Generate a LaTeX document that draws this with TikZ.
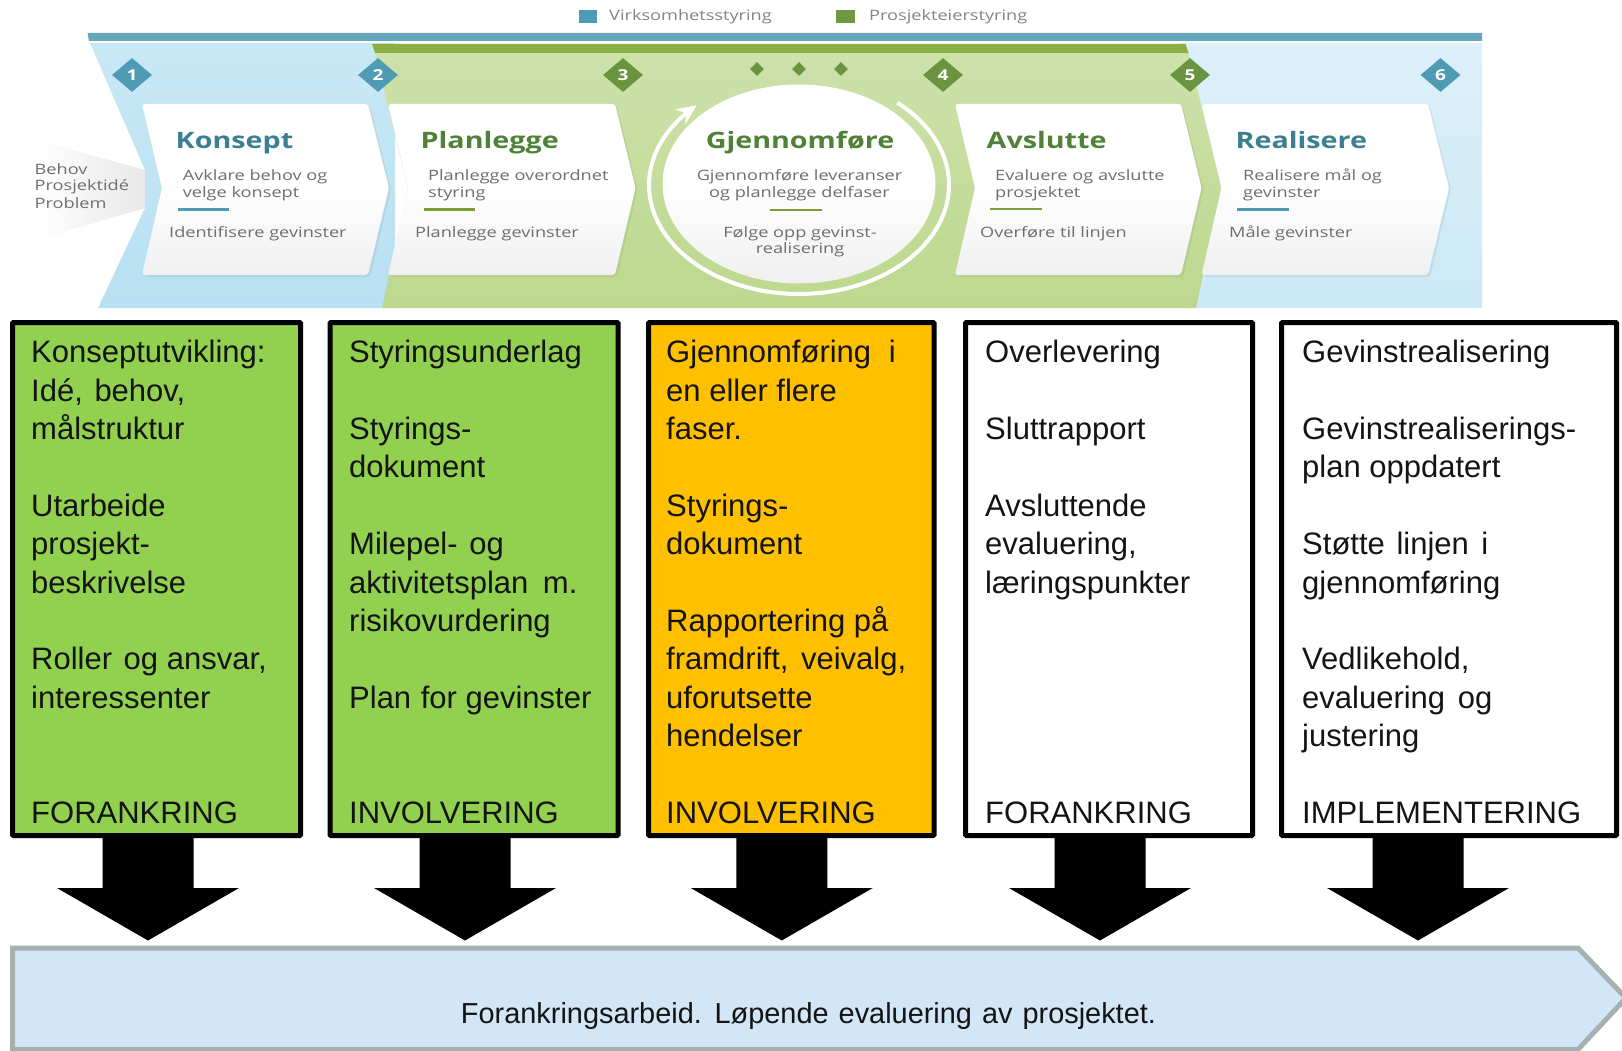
\documentclass[tikz,border=0pt]{standalone}
\usepackage{fontspec}
\usetikzlibrary{shapes.geometric,arrows.meta,calc}
\setmainfont{Liberation Sans}
\newfontfamily\osf[FakeStretch=1.27]{Open Sans}
\definecolor{bluedark}{HTML}{4F9BB4}
\definecolor{bluebar}{HTML}{66A6BC}
\definecolor{greendark}{HTML}{6A9440}
\definecolor{greenbar}{HTML}{8AB13F}
\definecolor{titleblue}{HTML}{3A7F92}
\definecolor{titlegreen}{HTML}{4F8236}
\definecolor{bodygrey}{HTML}{6E6E70}
\definecolor{boxgreen}{HTML}{92D050}
\definecolor{boxorange}{HTML}{FFC000}
\definecolor{arrowfill}{HTML}{D2E6F7}
\definecolor{arrowline}{HTML}{A5B0B0}
\definecolor{bluetopa}{HTML}{C9E8F5}
\definecolor{bluebota}{HTML}{B7E0F2}
\definecolor{bluetopb}{HTML}{DCF0FA}
\definecolor{bluebotb}{HTML}{CBE9F6}
\definecolor{greentop}{HTML}{CDE1AB}
\definecolor{greenbot}{HTML}{BDD88E}
\tikzset{
  x=1pt,y=-1pt,
  num/.style={diamond,aspect=1.18,minimum width=40pt,minimum height=34pt,inner sep=0pt,text=white,font=\osf\fontsize{15}{15}\selectfont\bfseries},
  numblue/.style={num,fill=bluedark},
  numgreen/.style={num,fill=greendark},
  dot/.style={diamond,aspect=1.1,minimum width=14pt,minimum height=14pt,inner sep=0pt,fill=greendark},
  ttl/.style={anchor=base west,inner sep=0pt,font=\osf\fontsize{22.6}{22}\selectfont\bfseries},
  ttlc/.style={anchor=base,inner sep=0pt,font=\osf\fontsize{22.6}{22}\selectfont\bfseries},
  body/.style={anchor=base west,inner sep=0pt,text=bodygrey,font=\osf\fontsize{14.3}{17}\selectfont},
  bodyc/.style={body,anchor=base},
  legendtxt/.style={body,text=bodygrey!85},
  card/.style={rounded corners=3pt,top color=white,bottom color=black!6,middle color=white},
  cardshadow/.style={rounded corners=3pt,fill=black,opacity=.06},
  bigbox/.style={draw=black,line width=5pt,rounded corners=1pt,anchor=north west,inner sep=0pt,outer sep=0pt},
  boxtext/.style={anchor=north west,inner sep=0pt,align=left,text=black!92,font=\fontsize{31}{38.35}\selectfont},
  ruleblue/.style={line width=2.5pt,bluedark},
  rulegreen/.style={line width=2.5pt,greenbar!90!black}
}
\newcommand{\cardshape}[4]{(#1,104) -- (#3,104) -- (#4,188) -- (#3,275) -- (#1,275) -- (#2,188) -- cycle}
\newcommand{\blockarrow}[2]{%
  \fill[black] ($(#1.south)+(#2-45.5,0)$) -- ($(#1.south)+(#2+45.5,0)$) -- ($(#1.south)+(#2+45.5,52.5)$)
    -- ($(#1.south)+(#2+91,52.5)$) -- ($(#1.south)+(#2,105)$) -- ($(#1.south)+(#2-91,52.5)$)
    -- ($(#1.south)+(#2-45.5,52.5)$) -- cycle;}
\newcommand{\btx}{\rule{0pt}{24pt}}
\begin{document}
\begin{tikzpicture}
\useasboundingbox (0,0) rectangle (1622,1051);
% legend
\fill[bluedark] (579,10) rectangle (597,23);
\node[legendtxt] (lg1) at (609,21) {Virksomhetsstyring};
\fill[greendark!85!greenbar] (836,10) rectangle (855,23);
\node[legendtxt] (lg2) at (869,21) {Prosjekteierstyring};
% bands
\fill[bluebar] (87.5,33) -- (1482,33) -- (1482,41) -- (89,41) -- cycle;
\shade[top color=bluetopa,bottom color=bluebota] (90,43) -- (395,43) -- (395,308) -- (98,308) -- (145,208) -- (145,170) -- cycle;
\shade[top color=bluetopb,bottom color=bluebotb] (1180,43) -- (1482,43) -- (1482,308) -- (1190,308) -- (1215,188) -- cycle;
\shade[top color=greentop,bottom color=greenbot] (375,53) -- (1188.5,53) -- (1221.5,188) -- (1196,308) -- (382,308) -- (408,188) -- cycle;
\fill[greenbar] (372,44) -- (1185.5,44) -- (1188.5,53) -- (375,53) -- cycle;
% behov
\shade[left color=white,right color=black!9] (36,140) -- (145,170) -- (145,208) -- (36,240) -- cycle;
\node[body,align=left] (behov) at (34.5,208) {Behov\\Prosjektidé\\Problem};
% cards
\fill[cardshadow,shift={(2,2)}] \cardshape{142}{162}{368}{389};
\shade[card] \cardshape{142}{162}{368}{389};
\fill[cardshadow,shift={(2,2)}] \cardshape{388}{408}{615}{635.5};
\shade[card] \cardshape{388}{408}{615}{635.5};
\fill[cardshadow,shift={(2,2)}] \cardshape{955}{975}{1181}{1201.5};
\shade[card] \cardshape{955}{975}{1181}{1201.5};
\fill[cardshadow,shift={(2,2)}] \cardshape{1201.5}{1221.5}{1428}{1449};
\shade[card] \cardshape{1201.5}{1221.5}{1428}{1449};
% centre ellipse
\shade[top color=white,bottom color=black!6,middle color=white] (799,184) ellipse [x radius=136.5,y radius=99.5];
\draw[white,line width=4pt,-{Stealth[length=20pt,width=18pt]}] plot[domain=49:-227,samples=90,smooth] ({799+150*cos(\x)},{185-109*sin(\x)});
% diamonds
\node[numblue] (d1) at (132,75) {1};
\node[numblue] (d2) at (378,75) {2};
\node[numgreen] (d3) at (623,75) {3};
\node[dot] (s1) at (757,69) {};
\node[dot] (s2) at (799,69) {};
\node[dot] (s3) at (841,69) {};
\node[numgreen] (d4) at (943,75) {4};
\node[numgreen] (d5) at (1190,75) {5};
\node[numblue] (d6) at (1440.5,75) {6};
% card texts
\node[ttl,text=titleblue] (t1) at (175.5,148.5) {Konsept};
\node[body,align=left] (b1) at (182.6,197) {Avklare behov og\\velge konsept};
\draw[ruleblue] (177.6,209.5) -- (229,209.5);
\node[body] (c1) at (169,237) {Identifisere gevinster};
\node[ttl,text=titlegreen] (t2) at (420.5,148.5) {Planlegge};
\node[body,align=left] (b2) at (428,197) {Planlegge overordnet\\styring};
\draw[rulegreen] (424,209.5) -- (475,209.5);
\node[body] (c2) at (415,237) {Planlegge gevinster};
\node[ttlc,text=titlegreen] (t3) at (800,148.5) {Gjennomføre};
\node[bodyc,align=center] (b3) at (799.5,197) {Gjennomføre leveranser\\og planlegge delfaser};
\draw[rulegreen] (770,210) -- (822,210);
\node[bodyc,align=center] (c3) at (800,254) {Følge opp gevinst-\\realisering};
\node[ttl,text=titlegreen] (t4) at (986.5,148.5) {Avslutte};
\node[body,align=left] (b4) at (995,197) {Evaluere og avslutte\\prosjektet};
\draw[rulegreen] (990,209) -- (1042,209);
\node[body] (c4) at (980,237) {Overføre til linjen};
\node[ttl,text=titleblue] (t5) at (1235.5,148.5) {Realisere};
\node[body,align=left] (b5) at (1243,197) {Realisere mål og\\gevinster};
\draw[ruleblue] (1237,209.5) -- (1289,209.5);
\node[body] (c5) at (1229,237) {Måle gevinster};
% big boxes
\node[bigbox,fill=boxgreen,minimum width=288pt,minimum height=513pt] (box1) at (12.5,322.5) {};
\node[bigbox,fill=boxgreen,minimum width=288pt,minimum height=513pt] (box2) at (330,322.5) {};
\node[bigbox,fill=boxorange,minimum width=285.5pt,minimum height=513pt] (box3) at (648.5,322.5) {};
\node[bigbox,fill=white,minimum width=287pt,minimum height=513pt] (box4) at (965.5,322.5) {};
\node[bigbox,fill=white,minimum width=335pt,minimum height=513pt] (box5) at (1281.5,322.5) {};
\node[boxtext] (x1) at (31,338.7) {\btx Konseptutvikling:\\Idé,\hspace{3pt} behov,\\målstruktur\\~\\Utarbeide\\prosjekt-\\beskrivelse\\~\\Roller\hspace{3pt} og ansvar,\\interessenter\\~\\~\\FORANKRING};
\node[boxtext] (x2) at (349,338.7) {\btx Styringsunderlag\\~\\Styrings-\\dokument\\~\\Milepel-\hspace{3pt} og\\aktivitetsplan\hspace{6pt} m.\\risikovurdering\\~\\Plan\hspace{1pt} for gevinster\\~\\~\\INVOLVERING};
\node[boxtext] (x3) at (666,338.7) {\btx Gjennomføring\hspace{9pt} i\\en eller flere\\faser.\\~\\Styrings-\\dokument\\~\\Rapportering på\\framdrift,\hspace{4pt} veivalg,\\uforutsette\\hendelser\\~\\INVOLVERING};
\node[boxtext] (x4) at (985,338.7) {\btx Overlevering\\~\\Sluttrapport\\~\\Avsluttende\\evaluering,\\læringspunkter\\~\\~\\~\\~\\~\\FORANKRING};
\node[boxtext] (x5) at (1302,338.7) {\btx Gevinstrealisering\\~\\Gevinstrealiserings-\\plan oppdatert\\~\\Støtte\hspace{3pt} linjen\hspace{4pt} i\\gjennomføring\\~\\Vedlikehold,\\evaluering\hspace{4pt} og\\justering\\~\\IMPLEMENTERING};
% block arrows
\blockarrow{box1}{-8.5}
\blockarrow{box2}{-9}
\blockarrow{box3}{-9.5}
\blockarrow{box4}{-9}
\blockarrow{box5}{-31}
% bottom arrow
\path[draw=arrowline,fill=arrowfill,line width=5pt] (12.5,948) -- (1578,948) -- (1626,998) -- (1578,1049.5) -- (12.5,1049.5) -- cycle;
\node[anchor=base,inner sep=0pt,text=black!92,font=\fontsize{28.9}{30}\selectfont] (foot) at (808.5,1023) {Forankringsarbeid.\hspace{2pt} Løpende\hspace{2pt} evaluering\hspace{2pt} av\hspace{2pt} prosjektet.};
\end{tikzpicture}
\end{document}
